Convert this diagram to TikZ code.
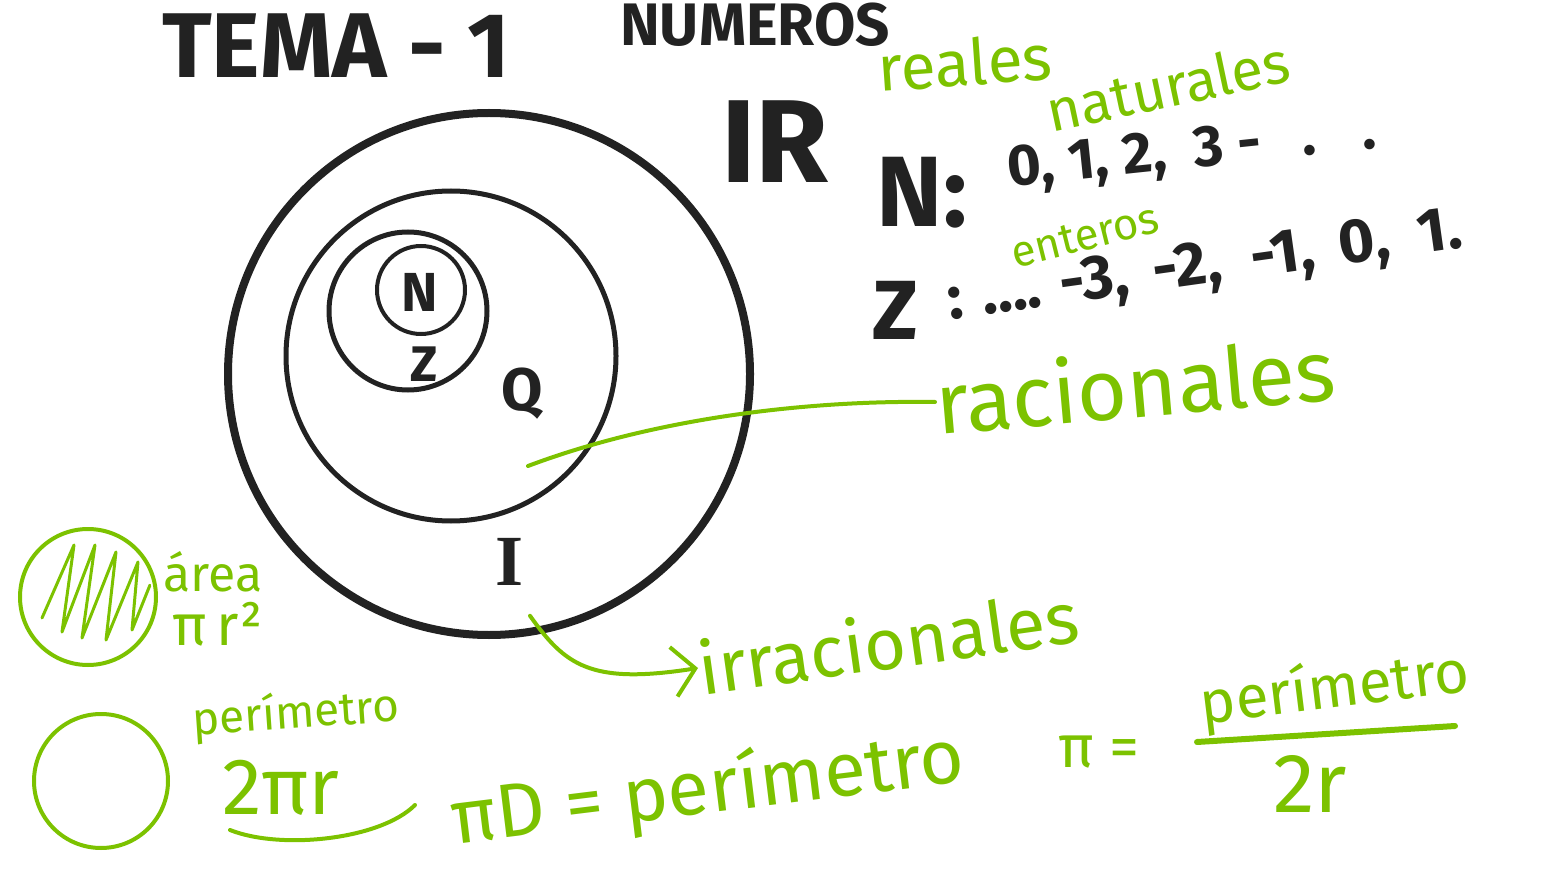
\documentclass[tikz,border=0pt]{standalone}
\usepackage{fontspec}
\setmainfont{Fira Sans}
\newfontfamily\serifI{Liberation Serif}
\usetikzlibrary{arrows.meta,positioning,calc}
\definecolor{ink}{RGB}{34,34,34}
\definecolor{lime}{RGB}{124,194,0}
\newcommand\sz[1]{\fontsize{#1}{#1}\selectfont}

\begin{document}
\begin{tikzpicture}[
  x=1pt, y=-1pt,
  setc/.style={circle, draw=ink, inner sep=0pt},
  blk/.style={text=ink, inner sep=0pt, font=\bfseries},
  grn/.style={text=lime, inner sep=0pt},
  gline/.style={draw=lime, line width=4pt, line cap=round, line join=round},
  arrow/.style={gline, -{Straight Barb[length=22pt,width=50pt,line width=4pt]}}
]
\useasboundingbox (0,0) rectangle (1548,885);
\clip (0,0) rectangle (1548,885);
% titulo, cortado por arriba
\node[blk, font=\sz{92pt}\bfseries, anchor=base west] (tema) at (162,78) {TEMA - 1};
\node[blk, font=\sz{60pt}\bfseries, anchor=base west] (num) at (620,46) {NÚMEROS};
% conjuntos: R > Q > Z > N
\node[setc, line width=8pt, minimum width=516pt, minimum height=522pt] (R) at (489,374) {};
\node[setc, line width=5pt, minimum size=330pt] (Q) at (451,356) {};
\node[setc, line width=5pt, minimum size=158pt] (Z) at (408,311) {};
\node[setc, line width=4pt, minimum size=88pt] (N) at (421,290) {};
\node[blk, font=\sz{55pt}\bfseries] (nl) at (420,292) {N};
\node[blk, font=\sz{50pt}\bfseries] (zl) at (424,364) {Z};
\node[blk, font=\sz{60pt}\bfseries] (ql) at (522,394) {Q};
\node[blk, font=\sz{72pt}\serifI\bfseries] (il) at (510,562) {I};
\node[blk, font=\sz{118pt}\bfseries] (rl) at (775,142) {IR};
% etiquetas y listas
\node[grn, font=\sz{64pt}, rotate=4] (reales) at (965,62) {reales};
\node[grn, font=\sz{58pt}, rotate=12] (naturales) at (1168,86) {naturales};
\node[blk, font=\sz{100pt}\bfseries] (nn) at (922,193) {N:};
\node[blk, font=\sz{58pt}\bfseries, rotate=6, anchor=west] (nlist) at (1008,172) {0, 1, 2, \ 3 - \ \ . \ \ .};
\node[blk, font=\sz{84pt}\bfseries] (zz) at (895,310) {Z};
\node[blk, font=\sz{62pt}\bfseries, rotate=8, anchor=west] (zlist) at (948,304) {: .... -3, \,-2, \ -1, \,0, \ 1.};
\node[grn, font=\sz{44pt}, rotate=14] (enteros) at (1085,236) {enteros};
\node[grn, font=\sz{86pt}, rotate=5, anchor=west] (racional) at (935,402) {racionales};
\node[grn, font=\sz{72pt}, rotate=8, anchor=west] (irracional) at (698,668) {irracionales};
% conectores verdes
\coordinate (qin) at (528,466);
\draw[gline] (qin) .. controls (650,420) and (800,400) .. (racional.west);
\draw[arrow] ([shift={(20,30)}]il.south) .. controls (565,665) and (590,685) .. (irracional.west);
% area y perimetro del circulo
\node[circle, draw=lime, line width=4pt, minimum size=136pt] (circA) at (88,597) {};
\begin{scope}
  \clip (circA.center) circle (64);
  \draw[gline, line width=3pt] (42,618) -- (74,545) -- (62,632) -- (95,545) -- (82,638) -- (116,552) -- (106,640) -- (138,562) -- (132,630) -- (150,585);
\end{scope}
\node[grn, font=\sz{50pt}, anchor=west] (area) at (163,572) {área};
\node[grn, font=\sz{58pt}, anchor=west] (pir2) at (172,624) {π\,r²};
\node[circle, draw=lime, line width=4pt, minimum size=134pt] (circP) at (101,781) {};
\node[grn, font=\sz{46pt}, rotate=4, anchor=west] (peri) at (192,722) {perímetro};
\node[grn, font=\sz{80pt}, anchor=west] (dospir) at (222,788) {2πr};
\coordinate (ua) at (230,830);
\coordinate (ub) at (415,805);
\draw[gline] (ua) .. controls (280,850) and (380,840) .. (ub);
% formulas de pi
\node[grn, font=\sz{76pt}, rotate=7, anchor=west] (piD) at (452,822) {πD = perímetro};
\node[grn, font=\sz{60pt}, anchor=west] (pieq) at (1058,752) {π =};
\node[grn, font=\sz{60pt}, rotate=7] (fnum) at (1335,690) {perímetro};
\coordinate (fa) at (1197,742);
\coordinate (fb) at (1455,726);
\draw[gline, line width=6pt] (fa) -- (fb);
\node[grn, font=\sz{84pt}] (fden) at (1310,784) {2r};
\end{tikzpicture}
\end{document}
